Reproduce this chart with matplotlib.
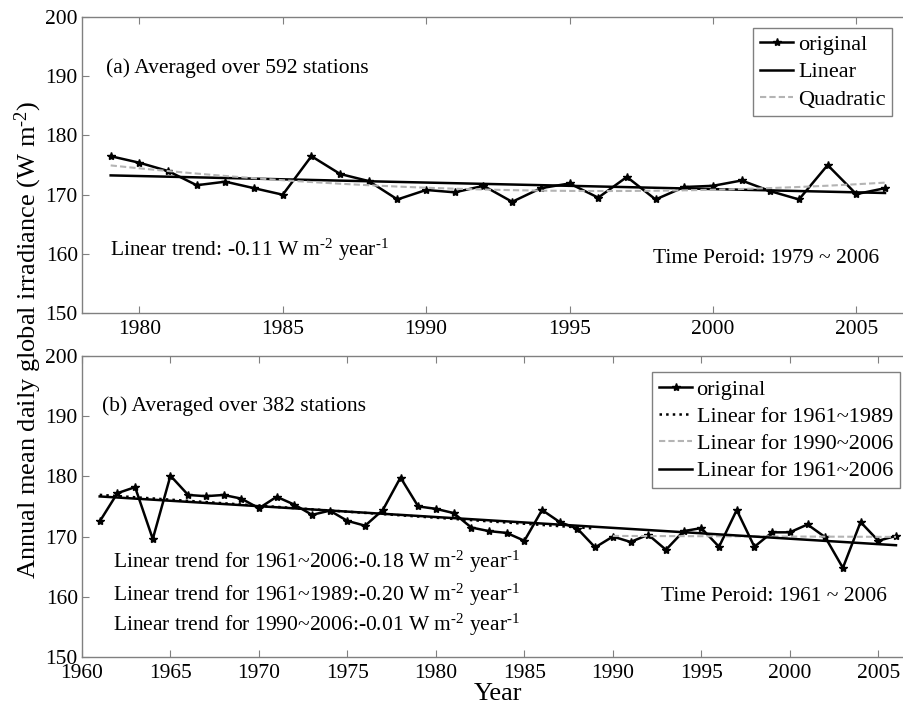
import numpy as np
import matplotlib
matplotlib.use('Agg')
import matplotlib.pyplot as plt

plt.rcParams['font.family'] = ['Liberation Serif', 'DejaVu Serif']
plt.rcParams['mathtext.fontset'] = 'custom'
plt.rcParams['mathtext.rm'] = 'Liberation Serif'
plt.rcParams['mathtext.default'] = 'regular'

# (a) 592 stations, 1979-2006
years_a = np.arange(1979, 2007)
ssr_a = [176.5, 175.4, 174.0, 171.6, 172.2, 171.1, 170.0, 176.5, 173.5, 172.3,
         169.2, 170.8, 170.4, 171.5, 168.8, 171.1, 171.9, 169.5, 173.0, 169.2,
         171.3, 171.5, 172.4, 170.6, 169.2, 175.0, 170.1, 171.1]
slope_a = -0.11

# (b) 382 stations, 1961-2006
years_b = np.arange(1961, 2007)
ssr_b = [172.5, 177.2, 178.2, 169.6, 180.1, 176.9, 176.7, 176.9, 176.3, 174.7,
         176.6, 175.3, 173.6, 174.3, 172.6, 171.8, 174.4, 179.8, 175.0, 174.6,
         173.9, 171.5, 170.9, 170.6, 169.3, 174.4, 172.4, 171.3, 168.2, 170.0,
         169.1, 170.3, 167.8, 170.9, 171.4, 168.3, 174.4, 168.3, 170.7, 170.7,
         172.0, 169.9, 164.8, 172.4, 169.3, 170.1]
slope_all = -0.18   # 1961~2006
slope_early = -0.20  # 1961~1989
slope_late = -0.01   # 1990~2006

GRAY = '#b4b4b4'
SPINE = '0.5'
FS = 15.5
UNIT = r'W m$^{\text{-}2}$ year$^{\text{-}1}$'


def trend(x, y, slope):
    # line through the mean point with the given slope
    x = np.asarray(x, float)
    y = np.asarray(y, float)
    return y.mean() + slope * (x - x.mean())


def style_axes(ax, xlim, xticks):
    ax.set_xlim(*xlim)
    ax.set_ylim(150, 200)
    ax.set_xticks(xticks)
    ax.set_yticks(np.arange(150, 201, 10))
    ax.tick_params(direction='in', top=True, right=True, length=5,
                   color=SPINE, labelsize=FS)
    ax.tick_params(axis='x', pad=5)
    ax.tick_params(axis='y', pad=3)
    for s in ax.spines.values():
        s.set_color(SPINE)
        s.set_linewidth(1.0)


def add_legend(ax, anchor):
    ax.legend(loc='upper right', bbox_to_anchor=anchor, fontsize=16,
              frameon=True, fancybox=False, edgecolor=SPINE, framealpha=1,
              handlelength=1.5, handletextpad=0.2, borderpad=0.3,
              labelspacing=0.3, borderaxespad=0)


fig = plt.figure(figsize=(9.04, 7.07), dpi=100)
ax1 = fig.add_axes([0.0907, 0.557, 0.920, 0.419])
ax2 = fig.add_axes([0.0907, 0.0707, 0.920, 0.426])

# panel (a)
ya = np.array(ssr_a)
quad = np.polyval(np.polyfit(years_a, ya, 2), years_a)
ax1.plot(years_a, ya, '-*', color='k', lw=1.8, ms=6, label='original')
ax1.plot(years_a, trend(years_a, ya, slope_a), '-', color='k', lw=1.8,
         label='Linear')
ax1.plot(years_a, quad, '--', color=GRAY, lw=1.5, dashes=(3, 1.5),
         label='Quadratic')
style_axes(ax1, (1978, 2007), np.arange(1980, 2006, 5))
add_legend(ax1, (0.974, 0.963))
ax1.text(0.029, 0.828, '(a) Averaged over 592 stations', transform=ax1.transAxes,
         fontsize=FS, va='center', ha='left')
ax1.text(0.034, 0.213, 'Linear trend: -0.11 ' + UNIT,
         transform=ax1.transAxes, fontsize=FS, va='center', ha='left')
ax1.text(0.958, 0.186, 'Time Peroid: 1979 ~ 2006', transform=ax1.transAxes,
         fontsize=FS, va='center', ha='right')

# panel (b)
yb = np.array(ssr_b)
early = years_b <= 1989
late = years_b >= 1990
ax2.plot(years_b, yb, '-*', color='k', lw=1.8, ms=6, label='original')
ax2.plot(years_b[early], trend(years_b[early], yb[early], slope_early), ':',
         color='k', lw=1.8, label='Linear for 1961~1989')
ax2.plot(years_b[late], trend(years_b[late], yb[late], slope_late), '--',
         color=GRAY, lw=1.5, dashes=(3, 1.5), label='Linear for 1990~2006')
ax2.plot(years_b, trend(years_b, yb, slope_all), '-', color='k', lw=1.8,
         label='Linear for 1961~2006')
style_axes(ax2, (1960, 2007), np.arange(1960, 2006, 5))
add_legend(ax2, (0.983, 0.945))
ax2.text(0.024, 0.832, '(b) Averaged over 382 stations', transform=ax2.transAxes,
         fontsize=FS, va='center', ha='left')
lines_b = ['Linear trend for 1961~2006:-0.18 ' + UNIT,
           'Linear trend for 1961~1989:-0.20 ' + UNIT,
           'Linear trend for 1990~2006:-0.01 ' + UNIT]
for txt, yy in zip(lines_b, [0.317, 0.206, 0.106]):
    ax2.text(0.037, yy, txt, transform=ax2.transAxes, fontsize=FS,
             va='center', ha='left')
ax2.text(0.968, 0.200, 'Time Peroid: 1961 ~ 2006', transform=ax2.transAxes,
         fontsize=FS, va='center', ha='right')

fig.text(0.551, 0.019, 'Year', fontsize=19, ha='center', va='center')
fig.text(0.031, 0.52, r'Annual mean daily global irradiance (W m$^{\text{-}2}$)',
         rotation=90, fontsize=19, ha='center', va='center')

fig.savefig('out.png', dpi=100)
